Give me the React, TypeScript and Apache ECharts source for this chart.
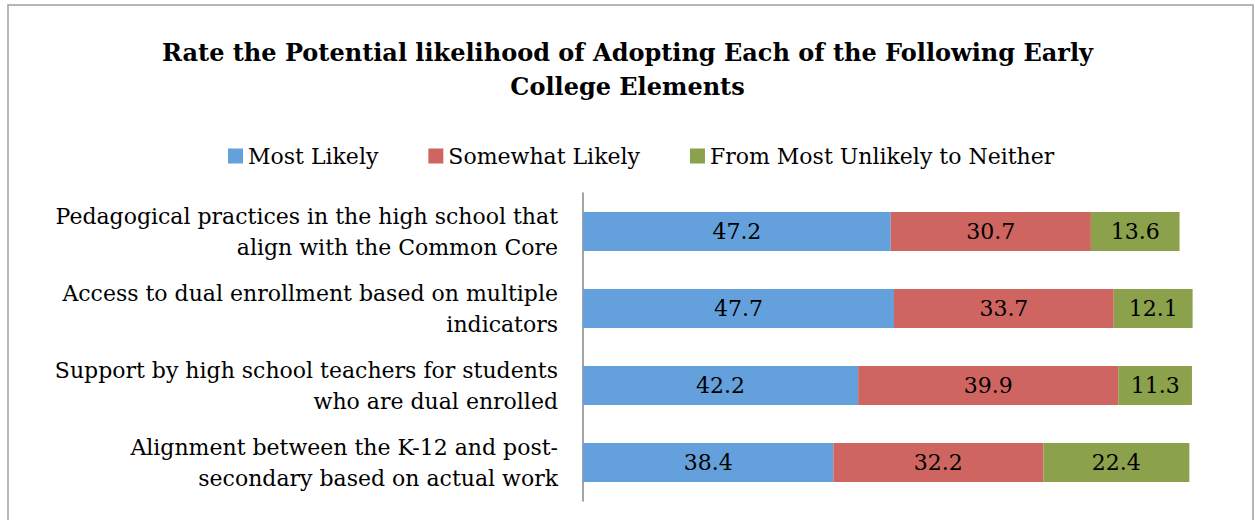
import React, { useEffect, useRef } from "react";
import * as echarts from "echarts";

const categories = [
  "Pedagogical practices in the high school that\nalign with the Common Core",
  "Access to dual enrollment based on multiple\nindicators",
  "Support by high school teachers for students\nwho are dual enrolled",
  "Alignment between the K-12 and post-\nsecondary based on actual work",
];
const mostLikely = [47.2, 47.7, 42.2, 38.4];
const somewhatLikely = [30.7, 33.7, 39.9, 32.2];
const unlikelyToNeither = [13.6, 12.1, 11.3, 22.4];
const seriesNames = ["Most Likely", "Somewhat Likely", "From Most Unlikely to Neither"];
const colors = ["#64A0DC", "#CE6560", "#8BA14B"];

const FONT = "'DejaVu Serif', 'Liberation Serif', serif";

export default function App() {
  const ref = useRef<HTMLDivElement>(null);
  useEffect(() => {
    document.body.style.margin = "0";
    const chart = echarts.init(ref.current!, null, { renderer: "svg" });
    const datasets = [mostLikely, somewhatLikely, unlikelyToNeither];
    chart.setOption({
      animation: false,
      backgroundColor: "#ffffff",
      textStyle: { fontFamily: FONT },
      title: {
        text: "Rate the Potential likelihood of Adopting Each of the Following Early\nCollege Elements",
        left: "center",
        top: 30,
        textStyle: {
          fontFamily: FONT,
          fontSize: 24,
          fontWeight: "bold",
          color: "#000",
          lineHeight: 34,
        },
      },
      legend: {
        top: 140,
        left: 223,
        itemWidth: 15,
        itemHeight: 15,
        itemGap: 50,
        icon: "rect",
        textStyle: { fontFamily: FONT, fontSize: 22, color: "#000" },
        data: seriesNames,
      },
      grid: { left: 583, top: 193, width: 652, height: 308 },
      xAxis: {
        type: "value",
        min: 0,
        max: 100,
        show: false,
      },
      yAxis: {
        type: "category",
        inverse: true,
        data: categories,
        axisLine: { show: true, lineStyle: { color: "#868686", width: 1.5 } },
        axisTick: { show: false },
        axisLabel: {
          fontFamily: FONT,
          fontSize: 22,
          color: "#000",
          lineHeight: 31,
          margin: 25,
          align: "right",
        },
      },
      series: datasets.map((d, i) => ({
        name: seriesNames[i],
        type: "bar",
        stack: "total",
        data: d,
        barWidth: 39,
        itemStyle: { color: colors[i] },
        label: {
          show: true,
          position: "inside",
          fontFamily: FONT,
          fontSize: 22,
          color: "#000",
          formatter: (p: any) => p.value.toFixed(1),
        },
      })),
      graphic: [
        {
          type: "rect",
          shape: { x: 8, y: 5, width: 1245, height: 530 },
          style: { fill: "none", stroke: "#A0A0A0", lineWidth: 1.5 },
          silent: true,
        },
      ],
    });
    return () => chart.dispose();
  }, []);
  return <div ref={ref} style={{ width: 1255, height: 520 }} />;
}
